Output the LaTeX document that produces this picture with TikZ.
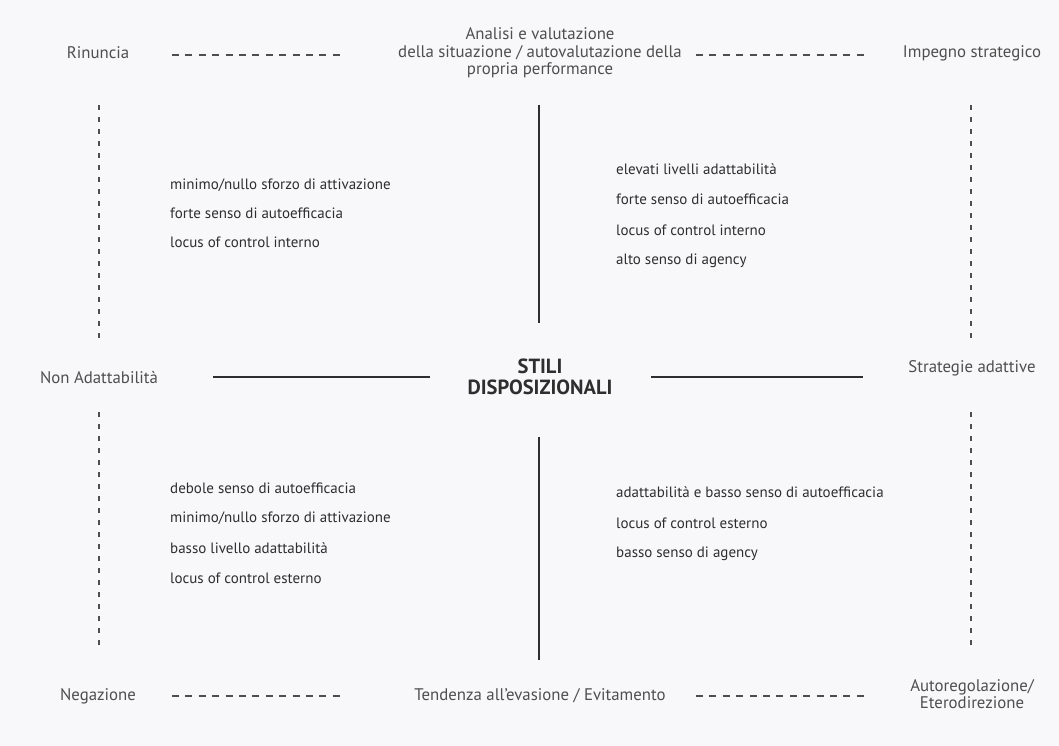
\documentclass[tikz,border=0pt]{standalone}
\usepackage{fontspec}
\setmainfont{PT Sans}
\definecolor{bg}{HTML}{F8F8FA}
\definecolor{labelgray}{HTML}{4E4E4E}
\definecolor{ink}{HTML}{2E2E2E}
\begin{document}
\begin{tikzpicture}[x=1pt,y=1pt,
  lbl/.style={text=labelgray,font=\fontsize{16.8}{17.5}\selectfont,align=center,inner sep=0pt},
  item/.style={text=ink,font=\fontsize{15}{17}\selectfont,anchor=west,inner sep=0pt},
  title/.style={text=ink,font=\fontsize{20.5}{21}\selectfont\bfseries,align=center,inner sep=0pt},
  axis/.style={draw=ink,line width=2.6pt},
  guide/.style={draw=labelgray,line width=1.2pt,dash pattern=on 7pt off 6.4pt},
  vguide/.style={draw=labelgray,line width=1.2pt,dash pattern=on 5pt off 7pt}]
\fill[bg] (0,0) rectangle (1059,-746);
\useasboundingbox (0,0) rectangle (1059,-746);

% corner and side labels
\node[lbl] (rin) at (98,-53) {Rinuncia};
\node[lbl] (ana) at (540,-53) {Analisi e valutazione\\della situazione / autovalutazione della\\propria performance};
\node[lbl] (imp) at (972,-53) {Impegno strategico};
\node[lbl] (non) at (99,-378) {Non Adattabilità};
\node[lbl] (str) at (972,-368) {Strategie adattive};
\node[lbl] (neg) at (98,-696) {Negazione};
\node[lbl] (ten) at (540,-696) {Tendenza all'evasione / Evitamento};
\node[lbl] (aut) at (972,-694) {Autoregolazione/\\Eterodirezione};

% centre title
\node[title] (sd) at (540,-377) {STILI\\DISPOSIZIONALI};

% quadrant descriptions
\node[item] (q1a) at (170,-185) {minimo/nullo sforzo di attivazione};
\node[item] (q1b) at (170,-213) {forte senso di autoefficacia};
\node[item] (q1c) at (170,-242) {locus of control interno};

\node[item] (q2a) at (616,-169) {elevati livelli adattabilità};
\node[item] (q2b) at (616,-199) {forte senso di autoefficacia};
\node[item] (q2c) at (616,-230) {locus of control interno};
\node[item] (q2d) at (616,-261) {alto senso di agency};

\node[item] (q3a) at (170,-488) {debole senso di autoefficacia};
\node[item] (q3b) at (170,-518) {minimo/nullo sforzo di attivazione};
\node[item] (q3c) at (170,-548) {basso livello adattabilità};
\node[item] (q3d) at (170,-578) {locus of control esterno};

\node[item] (q4a) at (616,-492) {adattabilità e basso senso di autoefficacia};
\node[item] (q4b) at (616,-523) {locus of control esterno};
\node[item] (q4c) at (616,-554) {basso senso di agency};

% line end points
\coordinate (th1) at (172,-55);  \coordinate (th2) at (340,-55);
\coordinate (th3) at (696,-55);  \coordinate (th4) at (864,-55);
\coordinate (bh1) at (172,-696); \coordinate (bh2) at (340,-696);
\coordinate (bh3) at (696,-696); \coordinate (bh4) at (864,-696);
\coordinate (lv1) at (99,-105);  \coordinate (lv2) at (99,-342);
\coordinate (lv3) at (99,-412);  \coordinate (lv4) at (99,-650);
\coordinate (rv1) at (971,-105); \coordinate (rv2) at (971,-342);
\coordinate (rv3) at (971,-412); \coordinate (rv4) at (971,-650);
\coordinate (cv1) at (539,-105); \coordinate (cv2) at (539,-323);
\coordinate (cv3) at (539,-437); \coordinate (cv4) at (539,-660);
\coordinate (ch1) at (213,-377); \coordinate (ch2) at (430,-377);
\coordinate (ch3) at (651,-377); \coordinate (ch4) at (863,-377);

% dashed guides
\draw[guide] (th1) -- (th2);
\draw[guide] (th3) -- (th4);
\draw[guide] (bh1) -- (bh2);
\draw[guide] (bh3) -- (bh4);
\draw[vguide] (lv1) -- (lv2);
\draw[vguide] (lv3) -- (lv4);
\draw[vguide] (rv1) -- (rv2);
\draw[vguide] (rv3) -- (rv4);

% solid axes
\draw[axis] (cv1) -- (cv2);
\draw[axis] (cv3) -- (cv4);
\draw[axis] (ch1) -- (ch2);
\draw[axis] (ch3) -- (ch4);
\end{tikzpicture}
\end{document}
